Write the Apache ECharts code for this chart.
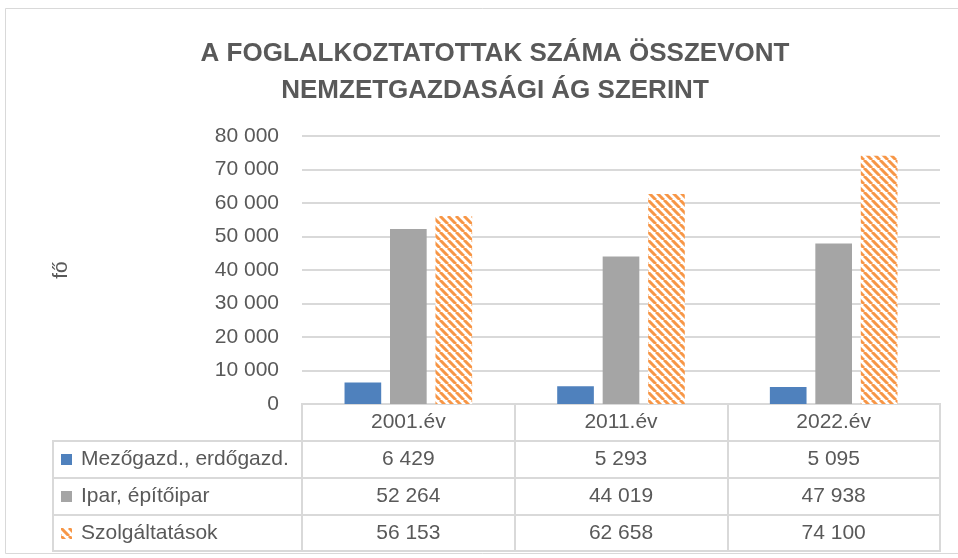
<!DOCTYPE html>
<html>
<head>
<meta charset="utf-8">
<script src="https://cdn.jsdelivr.net/npm/echarts@6/dist/echarts.min.js"></script>
<style>
html,body{margin:0;padding:0;background:#fff;}
#chart{width:958px;height:558px;}
</style>
</head>
<body>
<div id="chart"></div>
<script>
const titleText = 'A FOGLALKOZTATOTTAK SZÁMA ÖSSZEVONT\nNEMZETGAZDASÁGI ÁG SZERINT';
const categories = ['2001.év', '2011.év', '2022.év'];
const seriesNames = ['Mezőgazd., erdőgazd.', 'Ipar, építőipar', 'Szolgáltatások'];
const agriculture = [6429, 5293, 5095];
const industry = [52264, 44019, 47938];
const services = [56153, 62658, 74100];
const yMin = 0, yMax = 80000, yInterval = 10000;
const yName = 'fő';

const TXT = '#595959';
const LINE = '#d9d9d9';
const FONT = '"Liberation Sans", Arial, sans-serif';

function fmt(n) {
  return String(n).replace(/\B(?=(\d{3})+(?!\d))/g, ' ');
}

// hatched pattern for the services series
const pat = document.createElement('canvas');
pat.width = 8; pat.height = 8;
const pc = pat.getContext('2d');
pc.fillStyle = '#ffffff';
pc.fillRect(0, 0, 8, 8);
pc.strokeStyle = '#F79646';
pc.lineWidth = 3;
pc.beginPath();
[-8, 0, 8].forEach(k => { pc.moveTo(k, 0); pc.lineTo(k + 8, 8); });
pc.stroke();
const hatch = { image: pat, repeat: 'repeat' };

const allValues = [agriculture, industry, services];

const chart = echarts.init(document.getElementById('chart'), null, { renderer: 'canvas' });
chart.setOption({
  animation: false,
  backgroundColor: '#ffffff',
  title: {
    text: titleText,
    left: 490,
    top: 30,
    textAlign: 'center',
    textStyle: { color: TXT, fontSize: 26, fontWeight: 'bold', fontFamily: FONT, lineHeight: 37 }
  },
  legend: {
    orient: 'vertical',
    left: 61,
    top: 447.5,
    padding: 0,
    itemWidth: 11,
    itemHeight: 11,
    itemGap: 13,
    icon: 'rect',
    textStyle: { color: TXT, fontSize: 21, fontFamily: FONT, lineHeight: 24, padding: [0, 0, 0, 4] },
    data: seriesNames
  },
  graphic: [{
    type: 'rect', silent: true, z: -10,
    shape: { x: 5.5, y: 8.5, width: 960, height: 545 },
    style: { fill: null, stroke: LINE, lineWidth: 1 }
  }],
  grid: [
    { left: 302, right: 18, top: 136, bottom: 154 },
    { left: 302, right: 18, top: 404, height: 147, show: true, borderColor: LINE, borderWidth: 2, backgroundColor: 'transparent' },
    { left: 53, width: 249, top: 441, height: 110, show: true, borderColor: LINE, borderWidth: 2, backgroundColor: 'transparent' }
  ],
  xAxis: [
    {
      type: 'category', gridIndex: 0, data: categories,
      axisLine: { show: false }, axisTick: { show: false },
      axisLabel: {
        margin: 0, fontSize: 21, lineHeight: 37, color: TXT, fontFamily: FONT,
        formatter: (v, i) => [v].concat(allValues.map(a => fmt(a[i]))).join('\n')
      }
    },
    {
      type: 'category', gridIndex: 1, data: categories, boundaryGap: true,
      axisLine: { show: false }, axisTick: { show: false }, axisLabel: { show: false },
      splitLine: { show: true, interval: 0, lineStyle: { color: LINE, width: 2 } }
    },
    {
      type: 'category', gridIndex: 2, data: [''], show: false
    }
  ],
  yAxis: [
    {
      type: 'value', gridIndex: 0, min: yMin, max: yMax, interval: yInterval,
      name: yName, nameLocation: 'middle', nameGap: 230,
      nameTextStyle: { color: TXT, fontSize: 21, fontFamily: FONT },
      axisLine: { show: false }, axisTick: { show: false },
      axisLabel: { margin: 23, fontSize: 21, color: TXT, fontFamily: FONT, formatter: v => fmt(v) },
      splitLine: { lineStyle: { color: LINE, width: 2 } }
    },
    {
      type: 'category', gridIndex: 1, data: ['r0', 'r1', 'r2', 'r3'], inverse: true, boundaryGap: true,
      axisLine: { show: false }, axisTick: { show: false }, axisLabel: { show: false },
      splitLine: { show: true, interval: 0, lineStyle: { color: LINE, width: 2 } }
    },
    {
      type: 'category', gridIndex: 2, data: seriesNames, inverse: true, boundaryGap: true,
      axisLine: { show: false }, axisTick: { show: false }, axisLabel: { show: false },
      splitLine: { show: true, interval: 0, lineStyle: { color: LINE, width: 2 } }
    }
  ],
  series: [
    { name: seriesNames[0], type: 'bar', data: agriculture, itemStyle: { color: '#4F81BD' }, barGap: '24%', barCategoryGap: '40%' },
    { name: seriesNames[1], type: 'bar', data: industry, itemStyle: { color: '#A5A5A5' }, barGap: '24%', barCategoryGap: '40%' },
    { name: seriesNames[2], type: 'bar', data: services, itemStyle: { color: hatch }, barGap: '24%', barCategoryGap: '40%' }
  ]
});
</script>
</body>
</html>
